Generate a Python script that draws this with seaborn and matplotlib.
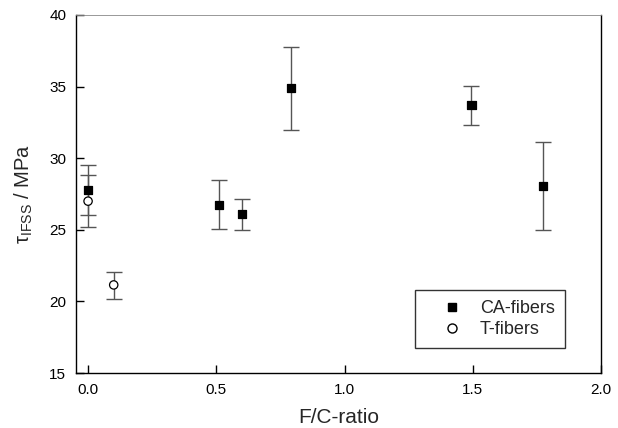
import numpy as np
import pandas as pd
import matplotlib
matplotlib.use("Agg")
import matplotlib.pyplot as plt
from matplotlib.lines import Line2D
import seaborn as sns

# Interfacial shear strength vs. F/C-ratio
ca_ratio = [0.0, 0.51, 0.60, 0.79, 1.495, 1.775]
ca_tau = [27.8, 26.75, 26.1, 34.9, 33.7, 28.05]
ca_low = [25.2, 25.05, 25.0, 32.0, 32.35, 25.0]
ca_high = [29.5, 28.45, 27.15, 37.75, 35.05, 31.1]

t_ratio = [0.0, 0.10]
t_tau = [27.0, 21.15]
t_low = [26.05, 20.2]
t_high = [28.85, 22.05]

series_names = ["CA-fibers", "T-fibers"]

sns.set_theme(style="white")
plt.rcParams["font.family"] = ["Liberation Sans", "DejaVu Sans"]
plt.rcParams["mathtext.fontset"] = "custom"
plt.rcParams["mathtext.rm"] = "Liberation Sans"
plt.rcParams["mathtext.it"] = "Liberation Sans:italic"

df = pd.concat([
    pd.DataFrame({"ratio": ca_ratio, "tau": ca_tau, "series": series_names[0]}),
    pd.DataFrame({"ratio": t_ratio, "tau": t_tau, "series": series_names[1]}),
])

fig = plt.figure(figsize=(6.18, 4.28), dpi=100)
ax = fig.add_axes([0.123, 0.1285, 0.8495, 0.8365])

# error bars
for x, y, lo, hi in [(ca_ratio, ca_tau, ca_low, ca_high), (t_ratio, t_tau, t_low, t_high)]:
    x = np.array(x); y = np.array(y)
    yerr = np.vstack([y - np.array(lo), np.array(hi) - y])
    ax.errorbar(x, y, yerr=yerr, fmt="none", ecolor="#555555", elinewidth=1.0,
                capsize=5.5, capthick=1.0, zorder=2)

sns.scatterplot(data=df, x="ratio", y="tau", hue="series", style="series",
                markers={"CA-fibers": "s", "T-fibers": "o"},
                palette={"CA-fibers": "black", "T-fibers": "white"},
                edgecolor="black", linewidth=0.9, s=36, legend=False, ax=ax, zorder=3)
for coll in ax.collections[-1:]:
    coll.set_edgecolor("black")

ax.set_xlim(-0.047, 2.0)
ax.set_ylim(15, 40)
ax.set_xticks([0.0, 0.5, 1.0, 1.5, 2.0])
ax.set_xticklabels(["0.0", "0.5", "1.0", "1.5", "2.0"])
ax.set_yticks([15, 20, 25, 30, 35, 40])
ax.tick_params(direction="in", length=6, width=1, labelsize=11, colors="black",
               bottom=True, left=True, top=False, right=False, pad=7)
for s in ax.spines.values():
    s.set_color("black")
    s.set_linewidth(1.0)
ax.spines["top"].set_linewidth(0.6)
ax.spines["top"].set_color("#888888")

ax.set_xlabel("F/C-ratio", fontsize=15, labelpad=8)
ax.set_ylabel(r"τ$_{\mathrm{IFSS}}$ / MPa", fontsize=14.5, labelpad=10)

handles = [
    Line2D([], [], marker="s", linestyle="none", markerfacecolor="black",
           markeredgecolor="black", markersize=6),
    Line2D([], [], marker="o", linestyle="none", markerfacecolor="white",
           markeredgecolor="black", markersize=6.5),
]
leg = ax.legend(handles, series_names, loc="lower right", bbox_to_anchor=(0.931, 0.07),
                fontsize=13, frameon=True, fancybox=False, edgecolor="black",
                handlelength=3.0, handletextpad=0.05, borderpad=0.55,
                labelspacing=0.2, borderaxespad=0)
leg.get_frame().set_linewidth(1.0)

fig.savefig("out.png", dpi=100)
